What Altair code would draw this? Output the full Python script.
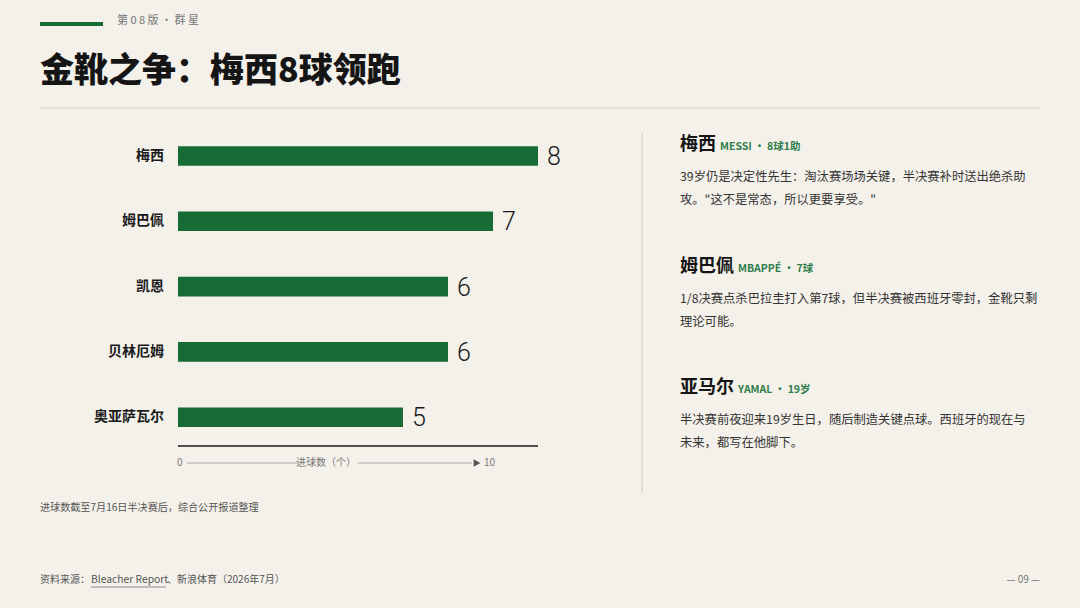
import altair as alt
import pandas as pd

players = ["梅西", "姆巴佩", "凯恩", "贝林厄姆", "奥亚萨瓦尔"]
goals = [8, 7, 6, 6, 5]

card_names = ["梅西", "姆巴佩", "亚马尔"]
card_tags = ["MESSI  ·  8球1助", "MBAPPÉ  ·  7球", "YAMAL  ·  19岁"]
card_lines = [
    ["39岁仍是决定性先生：淘汰赛场场关键，半决赛补时送出绝杀助", "攻。\"这不是常态，所以更要享受。\""],
    ["1/8决赛点杀巴拉圭打入第7球，但半决赛被西班牙零封，金靴只剩", "理论可能。"],
    ["半决赛前夜迎来19岁生日，随后制造关键点球。西班牙的现在与", "未来，都写在他脚下。"],
]
card_y = [145, 267, 388]
name_widths = [36, 54, 54]

BG = "#f4f1ea"
GREEN = "#176b35"
CJK = "Noto Sans CJK SC"

df = pd.DataFrame({"player": players, "goals": goals})

xs = alt.Scale(domain=[0, 8], range=[178, 538])
ys = alt.Scale(domain=players, range=[123.35, 449.85], paddingInner=0.7, paddingOuter=0.35)

bars = alt.Chart(df).mark_bar(color=GREEN, cornerRadius=0).encode(
    x=alt.X("goals:Q", scale=xs, axis=None),
    x2=alt.datum(0),
    y=alt.Y("player:N", scale=ys, axis=None, sort=players),
)
vals = alt.Chart(df).mark_text(align="left", baseline="middle", dx=9, dy=1, fontSize=25,
                               font="Roboto", fontWeight=300, color="#1a1a1a").encode(
    x=alt.X("goals:Q", scale=xs, axis=None),
    y=alt.Y("player:N", scale=ys, axis=None, sort=players),
    text="goals:Q",
)
cats = alt.Chart(df).mark_text(align="right", baseline="middle", fontSize=14, font=CJK,
                               fontWeight="bold", color="#1a1a1a").encode(
    x=alt.value(164),
    y=alt.Y("player:N", scale=ys, axis=None, sort=players),
    text="player:N",
)
base_df = pd.DataFrame({"a": [0], "b": [8]})
baseline = alt.Chart(base_df).mark_rule(color="#1a1a1a", strokeWidth=1.3).encode(
    x=alt.X("a:Q", scale=xs, axis=None), x2="b:Q", y=alt.value(446)
)

one = pd.DataFrame({"k": [0]})

def txt(text, x, y, size, color="#1a1a1a", weight="normal", align="left", baseline="middle",
        font=CJK):
    return alt.Chart(one).mark_text(text=text, align=align, baseline=baseline, fontSize=size,
                                    color=color, fontWeight=weight, font=font).encode(
        x=alt.value(x), y=alt.value(y))

def rule(x1, x2, y1, y2, color, width):
    return alt.Chart(one).mark_rule(color=color, strokeWidth=width).encode(
        x=alt.value(x1), x2=alt.value(x2), y=alt.value(y1), y2=alt.value(y2))

layers = [bars, vals, cats, baseline]

# header
layers.append(rule(40, 103, 24, 24, GREEN, 4))
layers.append(txt("第 0 8 版   ·   群 星", 117, 21, 11, color="#777"))
layers.append(txt("金靴之争：梅西8球领跑", 40, 72, 34, weight=900, color="#151515"))
layers.append(rule(40, 1040, 108, 108, "#d6d2c8", 1))

# axis decoration
layers.append(txt("0", 177, 463, 10, color="#777"))
layers.append(rule(187, 297, 463, 463, "#aaa", 1))
layers.append(txt("进球数（个）", 326, 463, 10, color="#777", align="center"))
layers.append(rule(358, 472, 463, 463, "#aaa", 1))
layers.append(alt.Chart(one).mark_point(shape="triangle-right", filled=True, color="#555",
                                        size=60, opacity=1).encode(x=alt.value(477), y=alt.value(463)))
layers.append(txt("10", 484, 463, 10, color="#777"))

# divider
layers.append(rule(642, 642, 133, 493, "#dcd8cf", 1.5))

# cards
for i in range(3):
    y0 = card_y[i]
    layers.append(txt(card_names[i], 680, y0, 18, weight="bold", color="#151515"))
    layers.append(txt(card_tags[i], 680 + name_widths[i] + 4, y0 + 2, 10.5, weight="bold",
                      color="#2e7d4a"))
    for j, line in enumerate(card_lines[i]):
        layers.append(txt(line, 680, y0 + 32 + 23 * j, 12.3, color="#333"))

# footnotes
layers.append(txt("进球数截至7月16日半决赛后，综合公开报道整理", 40, 508, 10.1, color="#555"))
layers.append(txt("资料来源：", 40, 580, 10, color="#555"))
layers.append(txt("Bleacher Report", 91, 580, 10.3, color="#555"))
layers.append(txt("、新浪体育（2026年7月）", 167, 580, 10, color="#555"))
layers.append(rule(91, 166, 587, 587, "#777", 0.8))
layers.append(txt("— 09 —", 1040, 580, 10, color="#777", align="right"))

chart = alt.layer(*layers).properties(
    width=1080, height=608, padding=0, autosize=alt.AutoSizeParams(type="none"),
    background=BG,
).configure_view(stroke=None)

chart.save("out.html", embed_options={"renderer": "svg", "actions": False})
